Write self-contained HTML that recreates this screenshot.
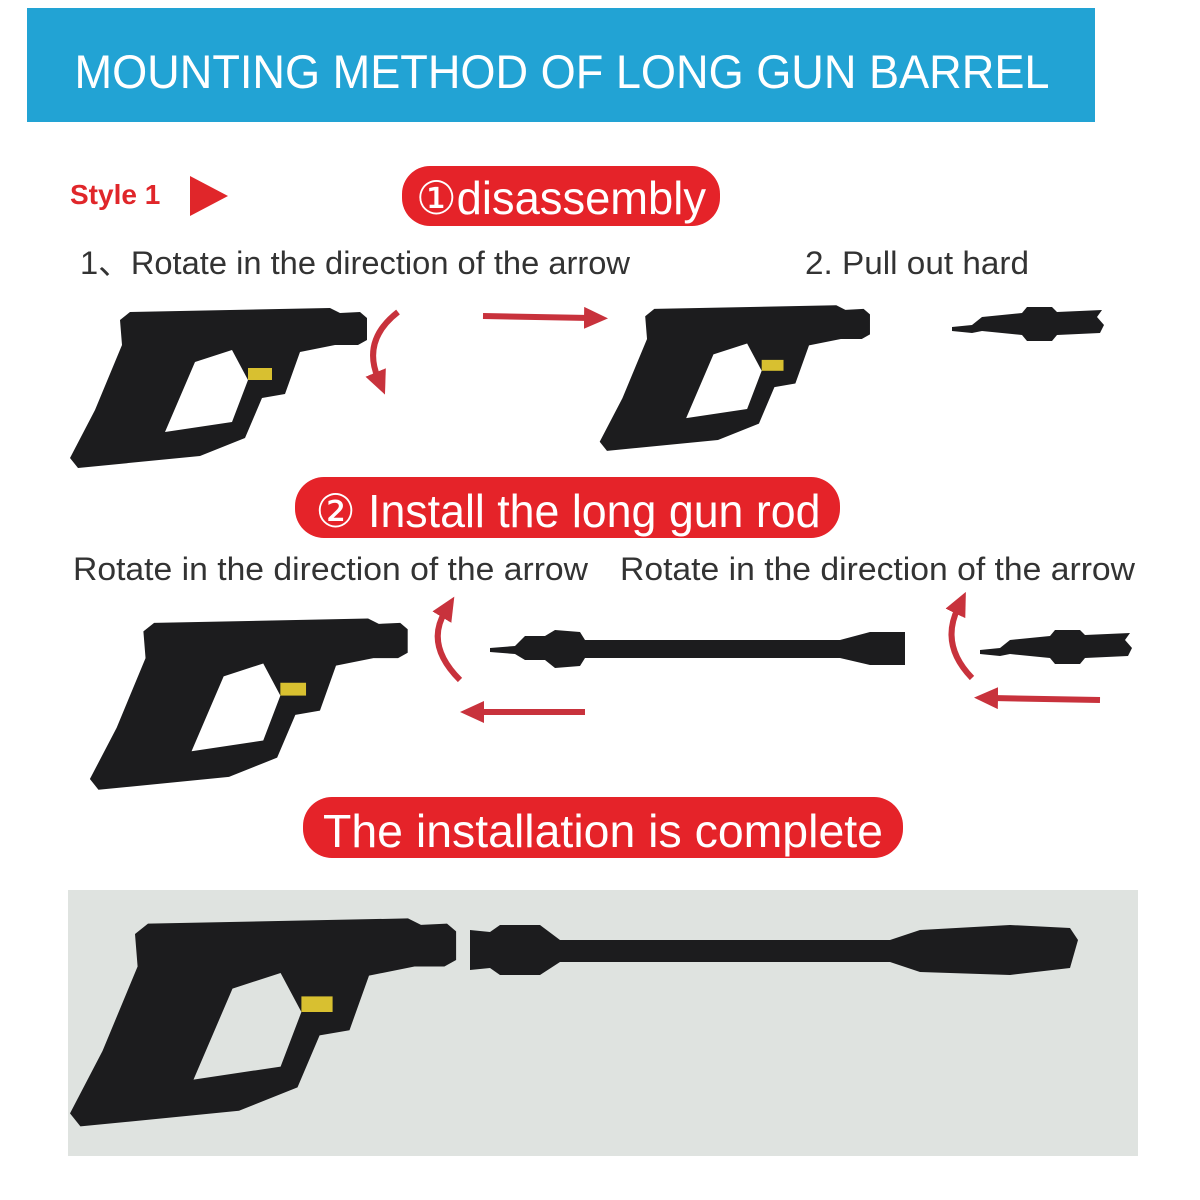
<!DOCTYPE html>
<html><head><meta charset="utf-8"><style>
body{margin:0;background:#fff;}
svg{display:block}
text{font-family:"Liberation Sans",sans-serif;}
</style></head><body>
<svg width="1200" height="1200" viewBox="0 0 1200 1200" xmlns="http://www.w3.org/2000/svg">
<defs>
<g id="gun">
<path fill-rule="evenodd" fill="#1c1c1e" d="M130,312 L330,308 L340,313 L360,312 L367,318 L367,340 L358,345 L335,345 L300,352 L285,394 L262,398 L245,438 L200,456 L78,468 L70,458 L95,410 L122,345 L120,320 Z M165,432 L195,362 L232,350 L248,380 L232,422 Z"/>
<rect x="248" y="368" width="24" height="12" fill="#d8c030"/>
</g>
<g id="noz">
<path fill="#1c1c1e" d="M0,10 L20,8 L30,0 L70,-4 L75,-10 L100,-10 L105,-5 L150,-7 L145,0 L152,8 L148,16 L105,18 L100,24 L75,24 L70,18 L30,14 L20,16 L0,14 Z"/>
</g>
<marker id="ah" markerUnits="userSpaceOnUse" markerWidth="24" markerHeight="22" refX="6" refY="11" orient="auto"><path d="M0,0 L24,11 L0,22 Z" fill="#c8323c"/></marker>
</defs>
<rect x="27" y="8" width="1068" height="114" fill="#22a3d4"/>
<text x="562" y="88" font-size="47" fill="#fff" text-anchor="middle" textLength="975" lengthAdjust="spacingAndGlyphs">MOUNTING METHOD OF LONG GUN BARREL</text>
<text x="70" y="204" font-size="28" font-weight="bold" fill="#e0262a">Style 1</text>
<path d="M190,176 L228,196 L190,216 Z" fill="#e0262a"/>
<rect x="402" y="166" width="318" height="60" rx="28" fill="#e52329"/>
<text x="561" y="214" font-size="46" fill="#fff" text-anchor="middle" textLength="290" lengthAdjust="spacingAndGlyphs">①disassembly</text>
<text x="80" y="274" font-size="32" fill="#333" textLength="550" lengthAdjust="spacingAndGlyphs">1、Rotate in the direction of the arrow</text>
<text x="805" y="274" font-size="32" fill="#333" textLength="224" lengthAdjust="spacingAndGlyphs">2. Pull out hard</text>
<use href="#gun"/>
<use href="#gun" transform="translate(536,25) scale(0.91)"/>
<use href="#noz" transform="translate(952,317)"/>
<path d="M398,312 Q362,340 378,378" stroke="#c8323c" stroke-width="6" fill="none" marker-end="url(#ah)"/>
<path d="M483,316 L590,318" stroke="#c8323c" stroke-width="6" fill="none" marker-end="url(#ah)"/>
<rect x="295" y="477" width="545" height="61" rx="29" fill="#e52329"/>
<text x="568" y="527" font-size="46" fill="#fff" text-anchor="middle" textLength="505" lengthAdjust="spacingAndGlyphs">② Install the long gun rod</text>
<text x="73" y="580" font-size="32" fill="#333" textLength="515" lengthAdjust="spacingAndGlyphs">Rotate in the direction of the arrow</text>
<text x="620" y="580" font-size="32" fill="#333" textLength="515" lengthAdjust="spacingAndGlyphs">Rotate in the direction of the arrow</text>
<use href="#gun" transform="translate(15,289) scale(1.07)"/>
<path fill="#1c1c1e" d="M490,648 L515,646 L525,636 L545,636 L555,630 L580,632 L585,640 L840,640 L870,632 L905,632 L905,665 L870,665 L840,658 L585,658 L580,666 L555,668 L545,660 L525,660 L515,654 L490,652 Z"/>
<use href="#noz" transform="translate(980,640)"/>
<path d="M460,680 Q425,645 445,612" stroke="#c8323c" stroke-width="6" fill="none" marker-end="url(#ah)"/>
<path d="M585,712 L478,712" stroke="#c8323c" stroke-width="6" fill="none" marker-end="url(#ah)"/>
<path d="M972,678 Q940,645 958,608" stroke="#c8323c" stroke-width="6" fill="none" marker-end="url(#ah)"/>
<path d="M1100,700 L992,698" stroke="#c8323c" stroke-width="6" fill="none" marker-end="url(#ah)"/>
<rect x="303" y="797" width="600" height="61" rx="29" fill="#e52329"/>
<text x="603" y="847" font-size="46" fill="#fff" text-anchor="middle" textLength="560" lengthAdjust="spacingAndGlyphs">The installation is complete</text>
<rect x="68" y="890" width="1070" height="266" fill="#dfe3e0"/>
<use href="#gun" transform="translate(-21,518) scale(1.3)"/>
<path fill="#1c1c1e" d="M470,930 L490,932 L500,925 L540,925 L560,940 L890,940 L920,930 L1010,925 L1070,928 L1078,940 L1070,968 L1010,975 L920,972 L890,962 L560,962 L540,975 L500,975 L490,968 L470,970 Z"/>
</svg>
</body></html>
